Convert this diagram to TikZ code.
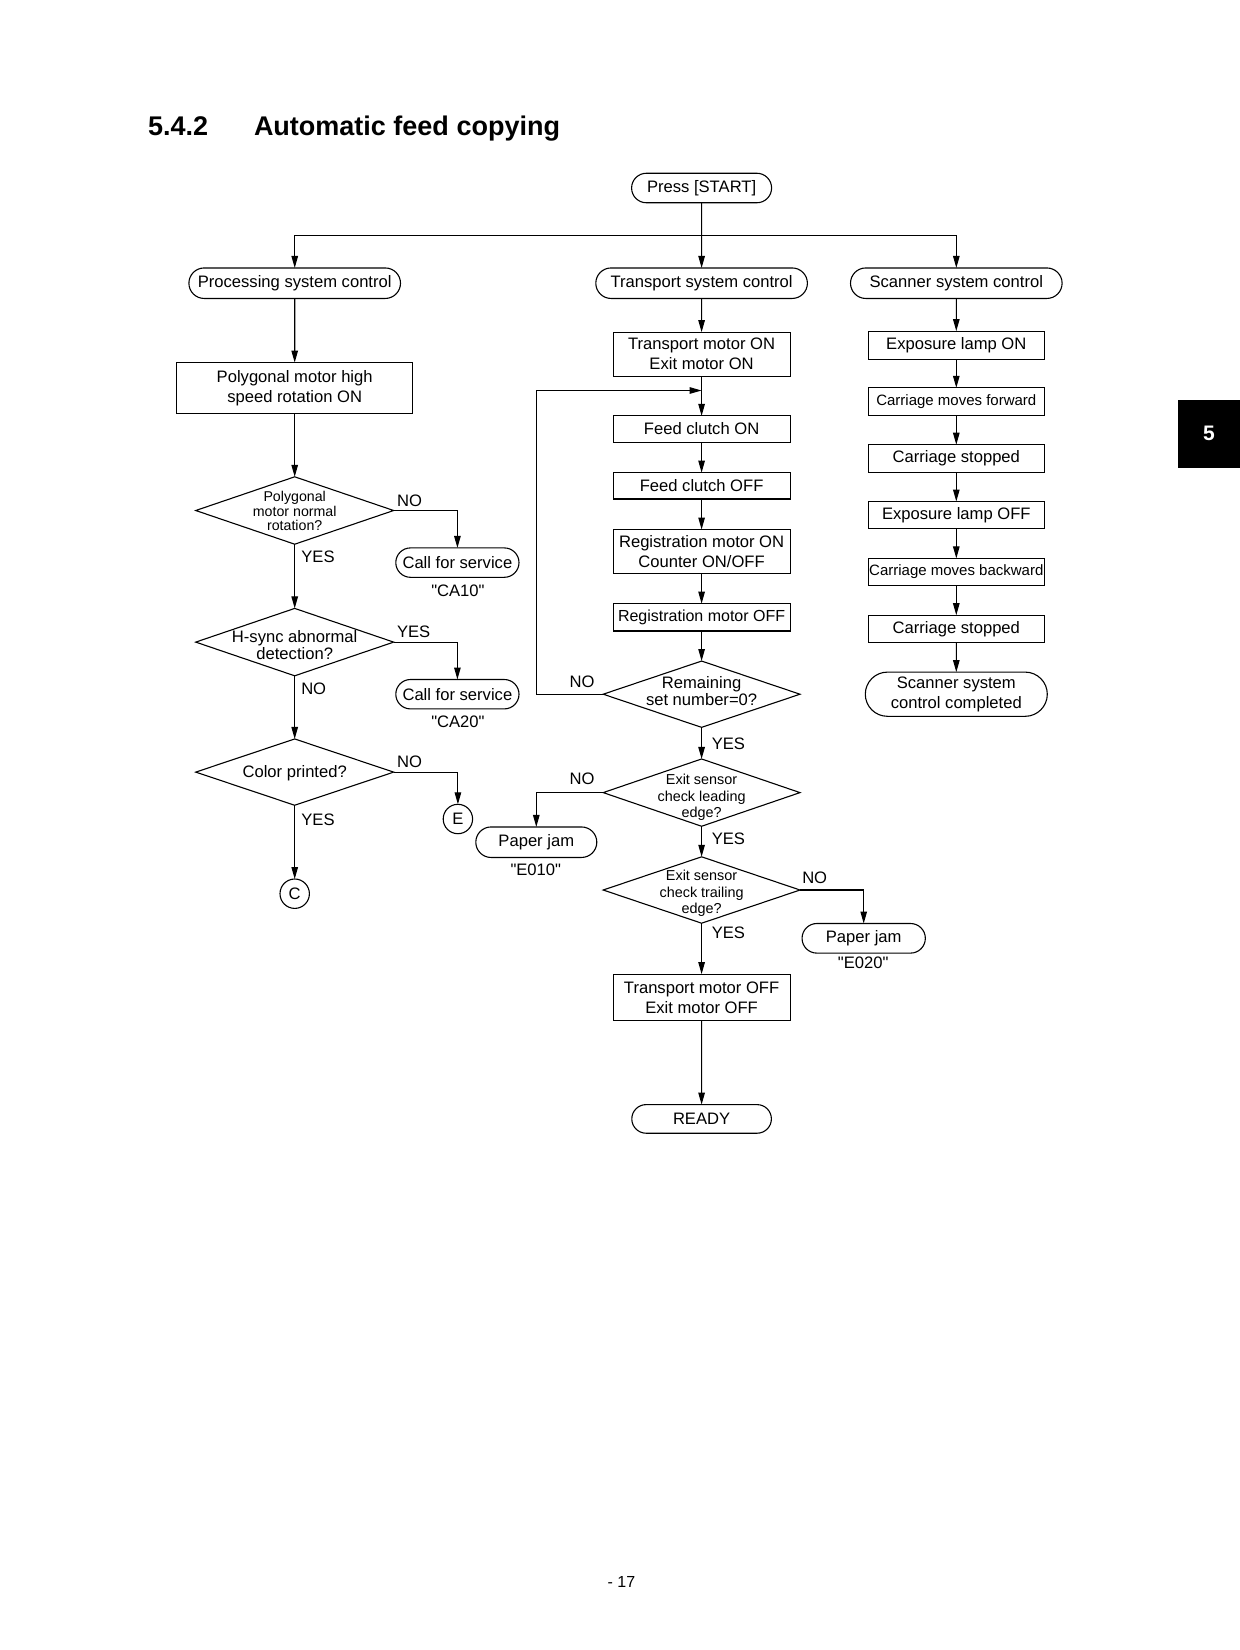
\documentclass[tikz,border=0pt]{standalone}
\usepackage{fontspec}
\setmainfont{Liberation Sans}
\newfontfamily\qf{Liberation Sans}
\usetikzlibrary{arrows.meta,shapes.geometric,shapes.misc}
\begin{document}
\begin{tikzpicture}[x=1pt,y=-1pt,
  every node/.style={font=\fontsize{16.6}{20}\selectfont, inner sep=0pt, outer sep=0pt},
  base/.style={draw, line width=1.1pt, align=center},
  box/.style={base, rectangle, minimum width=176.9pt},
  sbox/.style={base, rectangle, minimum width=175.8pt, minimum height=27.4pt},
  term/.style={base, rounded rectangle},
  dia/.style={draw, line width=1.1pt, diamond},
  dtxt/.style={align=center, font=\fontsize{16.6}{17}\selectfont},
  small/.style={font=\fontsize{14.2}{14.7}\selectfont},
  xsmall/.style={font=\fontsize{14.4}{16.8}\selectfont},
  mid/.style={font=\fontsize{15}{18}\selectfont},
  circ/.style={draw, line width=1.1pt, circle, minimum size=29.4pt},
  arr/.style={line width=1.1pt, -{Triangle[length=12pt,width=6.5pt]}},
  ln/.style={line width=1.1pt},
]
\fill[white] (0,0) rectangle (1240,1650);
\useasboundingbox (0,0) rectangle (1240,1650);

% title
\node[anchor=base west, font=\fontsize{27}{32}\selectfont\bfseries] (num) at (148,135) {5.4.2};
\node[anchor=base west, font=\fontsize{27}{32}\selectfont\bfseries] (title) at (254,135) {Automatic feed copying};

% side tab
\node[fill=black, minimum width=62pt, minimum height=68pt, text=white, font=\fontsize{21}{24}\selectfont\bfseries] (tab) at (1209,433.5) {5};

% page number
\node[font=\fontsize{16}{19}\selectfont] (page) at (621.5,1582) {- 17};

% start and split
\node[term, minimum width=140pt, minimum height=29.5pt] (start) at (701.6,188) {Press [START]};
\coordinate (split) at (701.6,235.8);

\node[term, minimum width=211.6pt, minimum height=30.5pt] (psc) at (294.7,283.2) {Processing system control};
\node[term, minimum width=211.6pt, minimum height=30.5pt] (tsc) at (701.6,283.2) {Transport system control};
\node[term, minimum width=211.6pt, minimum height=30.5pt] (ssc) at (956.3,283.2) {Scanner system control};

% processing column
\node[base, rectangle, minimum width=235.8pt, minimum height=50.5pt] (poly) at (294.7,387.8) {Polygonal motor high\\speed rotation ON};
\node[dia, minimum width=197.9pt, minimum height=67.4pt] (d1) at (294.7,510.5) {};
\node[dtxt, small] (d1t) at (294.7,511) {Polygonal\\motor normal\\rotation?};
\node[term, minimum width=123.2pt, minimum height=29.4pt] (cs1) at (457.4,562.6) {Call for service};
\node (ca10) at (457.9,590.5) {{\qf"CA10"}};
\node[dia, minimum width=197.9pt, minimum height=67.4pt] (d2) at (294.7,642.1) {};
\node[dtxt] (d2t) at (294.7,645.2) {H-sync abnormal\\detection?};
\node[term, minimum width=123.2pt, minimum height=29.4pt] (cs2) at (457.4,694.2) {Call for service};
\node (ca20) at (457.9,722) {{\qf"CA20"}};
\node[dia, minimum width=197.9pt, minimum height=66.3pt] (d3) at (294.7,772.1) {};
\node[dtxt] (d3t) at (294.7,772.8) {Color printed?};
\node[circ] (E) at (457.9,819) {E};
\node[circ] (C) at (294.7,893.7) {C};

\draw[arr] (psc) -- (poly);
\draw[arr] (poly) -- (d1);
\draw[arr] (d1.east) -| (cs1);
\draw[arr] (d1.south) -- (d2.north);
\draw[arr] (d2.east) -| (cs2);
\draw[arr] (d2.south) -- (d3.north);
\draw[arr] (d3.east) -| (E);
\draw[arr] (d3.south) -- (C);

\node (l1) at (409.5,501) {NO};
\node (l2) at (318,556.8) {YES};
\node (l3) at (413.7,631.6) {YES};
\node (l4) at (313.7,688.4) {NO};
\node (l5) at (409.5,762) {NO};
\node (l6) at (318,820) {YES};

% transport column
\node[box, minimum height=44.2pt] (tm) at (701.6,354.2) {Transport motor ON\\Exit motor ON};
\node[box, minimum height=26.3pt] (fc1) at (701.6,429) {Feed clutch ON};
\node[box, minimum height=26.3pt] (fc2) at (701.6,485.8) {Feed clutch OFF};
\node[box, minimum height=44.2pt] (reg1) at (701.6,551.6) {Registration motor ON\\Counter ON/OFF};
\node[box, minimum height=27.4pt, font=\fontsize{16}{19}\selectfont] (reg2) at (701.6,617.3) {Registration motor OFF};
\node[dia, minimum width=196.8pt, minimum height=66.3pt] (rem) at (701.6,694.2) {};
\node[dtxt] (remt) at (701.6,690.8) {Remaining\\set number=0?};
\node[dia, minimum width=196.8pt, minimum height=67.3pt] (ex1) at (701.6,792.6) {};
\node[dtxt, xsmall] (ex1t) at (701.6,797.3) {Exit sensor\\check leading\\edge?};
\node[term, minimum width=121pt, minimum height=30.5pt] (pj1) at (536.3,842.2) {Paper jam};
\node (e010) at (535.8,869.5) {{\qf"E010"}};
\node[dia, minimum width=196.8pt, minimum height=66.4pt] (ex2) at (701.6,890) {};
\node[dtxt, xsmall] (ex2t) at (701.6,893.4) {Exit sensor\\check trailing\\edge?};
\node[term, minimum width=123.3pt, minimum height=29.6pt] (pj2) at (863.7,938.3) {Paper jam};
\node (e020) at (863.2,963) {{\qf"E020"}};
\node[box, minimum height=46.3pt] (tmoff) at (701.6,997.3) {Transport motor OFF\\Exit motor OFF};
\node[term, minimum width=139.6pt, minimum height=28.6pt] (ready) at (701.6,1118.9) {READY};
\coordinate (loopc) at (536.8,390.5);

\draw[arr] (start) -- (tsc);
\draw[arr] (split) -| (psc);
\draw[arr] (split) -| (ssc);
\draw[arr] (tsc) -- (tm);
\draw[arr] (tm) -- (fc1);
\draw[arr] (rem.west) -| (loopc) -- (tm.south |- loopc);
\draw[arr] (fc1) -- (fc2);
\draw[arr] (fc2) -- (reg1);
\draw[arr] (reg1) -- (reg2);
\draw[arr] (reg2) -- (rem.north);
\draw[arr] (rem.south) -- (ex1.north);
\draw[arr] (ex1.west) -| (pj1);
\draw[arr] (ex1.south) -- (ex2.north);
\draw[arr] (ex2.east) -| (pj2);
\draw[arr] (ex2.south) -- (tmoff);
\draw[arr] (tmoff) -- (ready);

\node (l7) at (582.1,682.1) {NO};
\node (l8) at (728.4,744.2) {YES};
\node (l9) at (582,779) {NO};
\node (l10) at (728.4,839) {YES};
\node (l11) at (814.7,878) {NO};
\node (l12) at (728.4,932.6) {YES};

% scanner column
\node[sbox, minimum height=28.4pt] (el1) at (956.3,345.3) {Exposure lamp ON};
\node[sbox, mid] (cf) at (956.3,401.5) {Carriage moves forward};
\node[sbox] (cst1) at (956.3,458.4) {Carriage stopped};
\node[sbox] (eloff) at (956.3,515.2) {Exposure lamp OFF};
\node[sbox, mid] (cb) at (956.3,572.1) {Carriage moves backward};
\node[sbox] (cst2) at (956.3,628.9) {Carriage stopped};
\node[term, minimum width=182pt, minimum height=44.2pt] (done) at (956.3,694.2) {Scanner system\\control completed};

\draw[arr] (ssc) -- (el1);
\draw[arr] (el1) -- (cf);
\draw[arr] (cf) -- (cst1);
\draw[arr] (cst1) -- (eloff);
\draw[arr] (eloff) -- (cb);
\draw[arr] (cb) -- (cst2);
\draw[arr] (cst2) -- (done);
\end{tikzpicture}
\end{document}
